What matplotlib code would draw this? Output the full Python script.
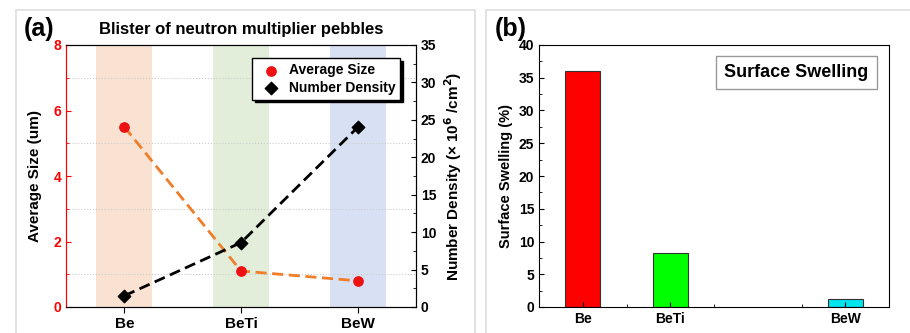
import matplotlib.pyplot as plt
import matplotlib.patches as mpatches
from matplotlib.ticker import MultipleLocator
import numpy as np

plt.rcParams['font.family'] = ['Liberation Sans', 'DejaVu Sans']
plt.rcParams['font.weight'] = 'bold'

# data
materials = ['Be', 'BeTi', 'BeW']
avg_size = [5.5, 1.1, 0.8]          # um
num_density = [1.5, 8.6, 24.0]      # x10^6 /cm^2
band_colors = ['#f9e2d2', '#e2eed9', '#d8e1f3']

swell_labels = ['Be', 'BeTi', 'BeW']
swell_pos = [0, 1, 3]
swelling = [36.0, 8.2, 1.2]          # %
swell_colors = ['#ff0000', '#00ff00', '#00e5ee']

fig = plt.figure(figsize=(9.1, 3.33), dpi=100)

# panel frames
for x0, x1 in [(16, 475), (486, 915)]:
    fig.patches.append(mpatches.Rectangle((x0 / 910, -0.05), (x1 - x0) / 910, 1.05 - 10 / 333,
                                          transform=fig.transFigure, fill=False,
                                          edgecolor='#dddddd', lw=1.2))

# ---- panel (a)
ax = fig.add_axes([66 / 910, 1 - 307 / 333, 350 / 910, 262 / 333])
x = np.arange(len(materials))
for xi, c in zip(x, band_colors):
    ax.axvspan(xi - 0.24, xi + 0.24, color=c, lw=0, zorder=0)
ax.set_xlim(-0.5, 2.5)
ax.set_ylim(0, 8)
ax.set_xticks(x)
ax.set_xticklabels(materials, fontsize=11, fontweight='bold')
ax.yaxis.set_major_locator(MultipleLocator(2))
ax.yaxis.set_minor_locator(MultipleLocator(1))
for v in [1, 3, 5, 7]:
    ax.axhline(v, color='#cccccc', ls=':', lw=0.8, zorder=1)
ax.tick_params(axis='y', colors='red', direction='in', labelsize=10)
ax.tick_params(axis='y', which='minor', colors='red', direction='in')
ax.tick_params(axis='x', direction='out', length=4)
for lbl in ax.get_yticklabels():
    lbl.set_fontweight('bold')
ax.spines['left'].set_color('red')
ax.set_ylabel('Average Size (um)', fontsize=11, fontweight='bold', labelpad=8)
ax.plot(x, avg_size, ls='--', color='#f07d2a', lw=2, dashes=(4, 2), zorder=3)
p1 = ax.scatter(x, avg_size, color='#ee1111', s=45, zorder=5, label='Average Size')

ax2 = ax.twinx()
ax2.set_ylim(0, 35)
ax2.yaxis.set_major_locator(MultipleLocator(5))
ax2.yaxis.set_minor_locator(MultipleLocator(2.5))
ax2.tick_params(axis='y', which='both', direction='in', labelsize=10)
for lbl in ax2.get_yticklabels():
    lbl.set_fontweight('bold')
ax2.plot(x, num_density, ls='--', color='black', lw=2, dashes=(4, 2), zorder=3)
p2 = ax2.scatter(x, num_density, color='black', marker='D', s=40, zorder=5, label='Number Density')
ax2.set_ylabel('Number Density (× 10$^{\\mathbf{6}}$ /cm$^{\\mathbf{2}}$)', fontsize=11, fontweight='bold')
ax2.spines['left'].set_color('red')
ax2.legend(handles=[p1, p2], loc='upper right', bbox_to_anchor=(0.975, 0.975),
           frameon=True, fancybox=False, edgecolor='black',
           shadow={'color': 'black', 'alpha': 1}, handletextpad=0.3,
           borderpad=0.35, labelspacing=0.25, prop={'weight': 'bold', 'size': 10})

ax.set_title('Blister of neutron multiplier pebbles', fontsize=12, fontweight='bold', pad=8)
fig.text(24 / 910, 1 - 29 / 333, '(a)', fontsize=18, fontweight='bold', va='center')

# ---- panel (b)
bx = fig.add_axes([539 / 910, 1 - 307 / 333, 350 / 910, 262 / 333])
bx.bar(swell_pos, swelling, width=0.4, color=swell_colors, edgecolor='#333333', lw=0.8)
bx.set_xlim(-0.5, 3.5)
bx.set_ylim(0, 40)
bx.set_xticks(swell_pos)
bx.set_xticklabels(swell_labels, fontsize=11, fontweight='bold')
bx.set_xticks([0.5, 1.5, 2.5], minor=True)
bx.yaxis.set_major_locator(MultipleLocator(5))
bx.yaxis.set_minor_locator(MultipleLocator(2.5))
bx.tick_params(which='both', direction='in', labelsize=10)
for lbl in bx.get_yticklabels():
    lbl.set_fontweight('bold')
bx.set_ylabel('Surface Swelling (%)', fontsize=10.5, fontweight='bold')
bx.text(0.735, 0.895, 'Surface Swelling', transform=bx.transAxes, ha='center', va='center',
        fontsize=13, fontweight='bold',
        bbox=dict(boxstyle='square,pad=0.45', fc='white', ec='#999999', lw=1))
fig.text(495 / 910, 1 - 29 / 333, '(b)', fontsize=18, fontweight='bold', va='center')

fig.savefig('out.png', dpi=100)
